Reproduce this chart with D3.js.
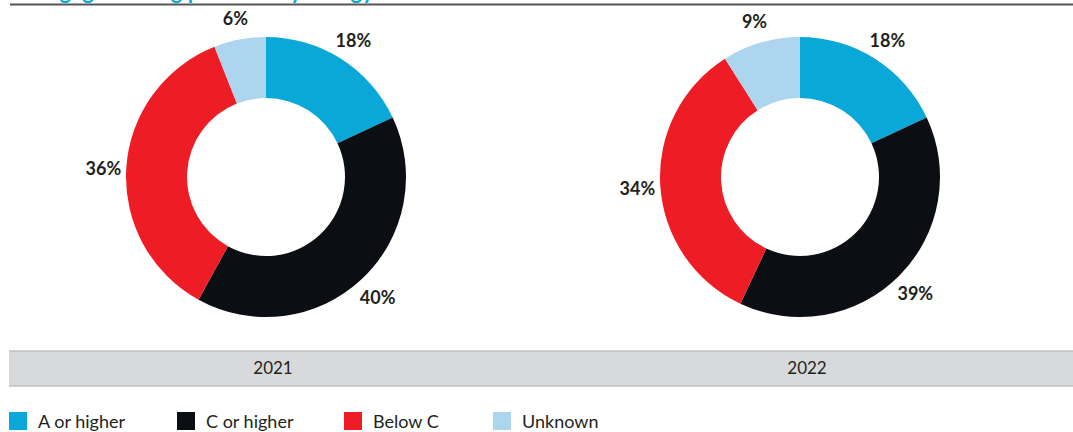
<!DOCTYPE html>
<html>
<head>
<meta charset="utf-8">
<script src="https://cdn.jsdelivr.net/npm/d3@7"></script>
<style>
  body { margin: 0; background: #fff; }
  svg { display: block; }
</style>
</head>
<body>
<div id="chart"></div>
<script>
// data
var categories = ['A or higher', 'C or higher', 'Below C', 'Unknown']
var years = ['2021', '2022']
var values2021 = [18, 40, 36, 6]
var values2022 = [18, 39, 34, 9]
var colors = ['#0aa8d8', '#0b0e12', '#ee1c25', '#aed5ee']

var width = 1073
var height = 432

var svg = d3.select('#chart')
  .append('svg')
  .attr('width', width)
  .attr('height', height)

// title sits above the visible area, only its descenders show
svg.append('text')
  .attr('x', 10)
  .attr('y', -1)
  .attr('fill', '#0aa8d8')
  .attr('font-family', 'Lato')
  .attr('font-weight', 700)
  .attr('font-size', 22)
  .text('Mortgage lending portfolio by energy label')

svg.append('line')
  .attr('x1', 10).attr('x2', width)
  .attr('y1', 4.5).attr('y2', 4.5)
  .attr('stroke', '#555')
  .attr('stroke-width', 2)

var colorScale = d3.scaleOrdinal().domain(categories).range(colors)

// one donut per year
var xCenter = d3.scalePoint()
  .domain(years)
  .range([266, 800])

var pie = d3.pie().sort(null).value(d => d.value)
var arc = d3.arc().innerRadius(79).outerRadius(140)
var labelArc = d3.arc().innerRadius(163).outerRadius(163)

var series = [values2021, values2022]

years.forEach(function (year, i) {
  var data = categories.map((c, j) => ({ cat: c, value: series[i][j] }))
  var g = svg.append('g')
    .attr('transform', `translate(${xCenter(year)},177)`)

  g.selectAll('path')
    .data(pie(data))
    .enter()
    .append('path')
    .attr('d', arc)
    .attr('fill', d => colorScale(d.data.cat))

  g.selectAll('text')
    .data(pie(data))
    .enter()
    .append('text')
    .attr('transform', d => `translate(${labelArc.centroid(d)})`)
    .attr('text-anchor', 'middle')
    .attr('dy', 8)
    .attr('font-family', 'Lato')
    .attr('font-weight', 700)
    .attr('font-size', 18)
    .attr('fill', '#231f20')
    .text(d => d.data.value + '%')
})

// grey year band
svg.append('rect')
  .attr('x', 9).attr('y', 351)
  .attr('width', width - 9).attr('height', 35)
  .attr('fill', '#d8d9db')
svg.append('line')
  .attr('x1', 9).attr('x2', width).attr('y1', 351).attr('y2', 351)
  .attr('stroke', '#bfc0c2').attr('stroke-width', 1.5)
svg.append('line')
  .attr('x1', 9).attr('x2', width).attr('y1', 386).attr('y2', 386)
  .attr('stroke', '#bfc0c2').attr('stroke-width', 1.5)

svg.selectAll('.year')
  .data(years)
  .enter()
  .append('text')
  .attr('class', 'year')
  .attr('x', d => xCenter(d) + 7)
  .attr('y', 374)
  .attr('text-anchor', 'middle')
  .attr('font-family', 'Lato')
  .attr('font-size', 17)
  .attr('fill', '#231f20')
  .text(d => d)

// legend
var legendX = [9, 177, 344, 493]
var legend = svg.selectAll('.legend')
  .data(categories)
  .enter()
  .append('g')
  .attr('class', 'legend')
  .attr('transform', (d, i) => `translate(${legendX[i]},412)`)

legend.append('rect')
  .attr('width', 18).attr('height', 18)
  .attr('fill', d => colorScale(d))

legend.append('text')
  .attr('x', 29)
  .attr('y', 15.5)
  .attr('font-family', 'Lato')
  .attr('font-size', 18)
  .attr('fill', '#231f20')
  .text(d => d)
</script>
</body>
</html>
